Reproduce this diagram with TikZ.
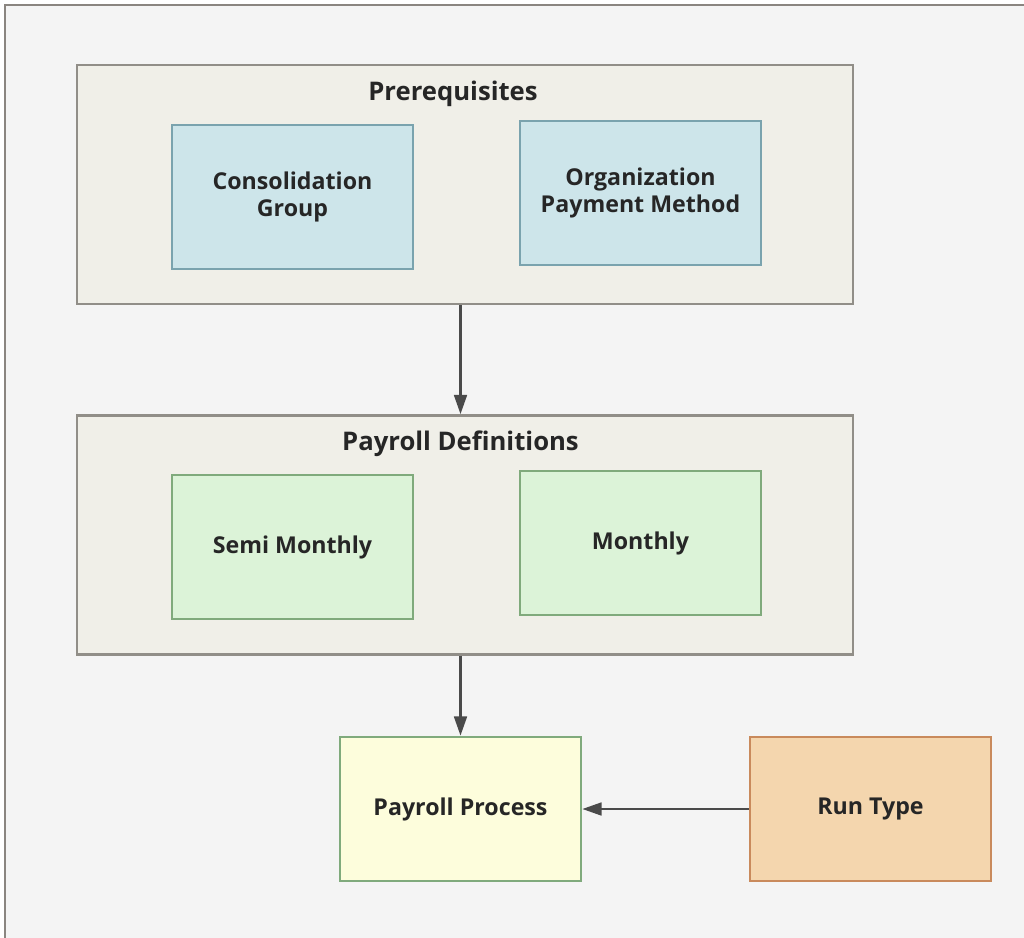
\documentclass[tikz,border=0pt]{standalone}
\usepackage{fontspec}
\setmainfont{Open Sans}
\usetikzlibrary{arrows.meta}

\definecolor{hgrund}{HTML}{F4F4F4}
\definecolor{hrand}{HTML}{8A8580}
\definecolor{gruppe}{HTML}{F0EFE8}
\definecolor{grand}{HTML}{918E88}
\definecolor{blau}{HTML}{CDE5EA}
\definecolor{blaurand}{HTML}{7AA3AE}
\definecolor{gruen}{HTML}{DCF3D8}
\definecolor{gruenrand}{HTML}{80AA7C}
\definecolor{gelb}{HTML}{FDFDDC}
\definecolor{orange}{HTML}{F4D6AE}
\definecolor{orangerand}{HTML}{C98A5C}
\definecolor{pfeilfarbe}{HTML}{4A4A4A}

\tikzset{
  schrift/.style={font=\fontsize{6.6}{7.8}\selectfont\bfseries, text=black!85},
  titel/.style={font=\fontsize{7.3}{8.5}\selectfont\bfseries, text=black!85},
  gruppenbox/.style={draw=grand, fill=gruppe, line width=0.7pt,
    minimum width=7.76cm, minimum height=2.39cm},
  kasten/.style={schrift, line width=0.7pt, align=center,
    minimum width=2.41cm, minimum height=1.44cm},
  pfeil/.style={draw=pfeilfarbe, line width=0.8pt,
    -{Triangle[length=5.5pt, width=3.6pt]}}
}

\begin{document}
\begin{tikzpicture}
    \useasboundingbox (0,0) rectangle (10.24,-9.38);
    % Hintergrund
    \filldraw[fill=hgrund, draw=hrand, line width=0.6pt] (0.05,-0.05) rectangle (10.6,-9.7);

    % Gruppe der Voraussetzungen
    \node[gruppenbox] (prereq) at (4.65,-1.845) {};
    \node[titel] (prereqtitel) at (4.53,-0.94) {Prerequisites};
    \node[kasten, fill=blau, draw=blaurand] (konsol) at (2.925,-1.97) {Consolidation\\Group};
    \node[kasten, fill=blau, draw=blaurand] (orgpay) at (6.405,-1.93) {Organization\\Payment Method};

    % Gruppe der Lohnabrechnungsdefinitionen
    \node[gruppenbox] (paydef) at (4.65,-5.35) {};
    \node[titel] (paydeftitel) at (4.605,-4.44) {Payroll Definitions};
    \node[kasten, fill=gruen, draw=gruenrand] (semi) at (2.925,-5.47) {Semi Monthly};
    \node[kasten, fill=gruen, draw=gruenrand] (monthly) at (6.405,-5.43) {Monthly};

    % Prozess und Laufart
    \node[kasten, fill=gelb, draw=gruenrand] (pproc) at (4.605,-8.09) {Payroll Process};
    \node[kasten, fill=orange, draw=orangerand] (runtype) at (8.705,-8.09) {Run Type};

    % Pfeile
    \draw[pfeil] (prereq.south -| pproc.north) -- (paydef.north -| pproc.north);
    \draw[pfeil] (paydef.south -| pproc.north) -- (pproc.north);
    \draw[pfeil] (runtype.west) -- (pproc.east);
\end{tikzpicture}
\end{document}
